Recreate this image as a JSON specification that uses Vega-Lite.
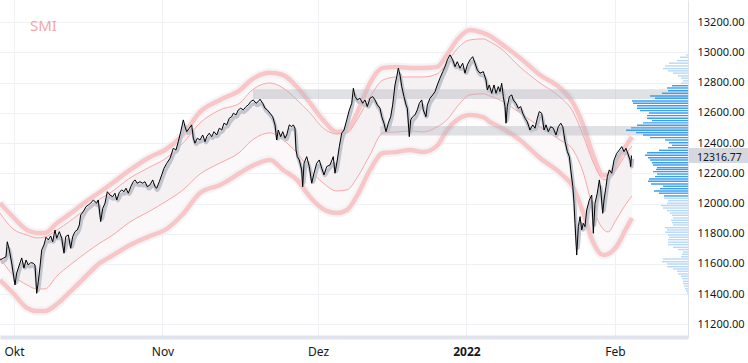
{
"$schema":"https://vega.github.io/schema/vega-lite/v6.json",
"width":688,"height":337,
"autosize":{"type":"none"},
"padding":{"left":0,"top":0,"right":60,"bottom":26},
"background":"#ffffff",
"config":{"view":{"stroke":null},"font":"Noto Sans"},
"title":{"text":"SMI","anchor":"start","frame":"group","orient":"top","offset":-34,"dx":30,"color":"#f6a5a7","fontSize":15,"fontWeight":"normal","font":"Noto Sans"},
"datasets":{
"price":[
{"d":-1.98,"p":11626},{"d":-1.51,"p":11638},{"d":-1.13,"p":11648},{"d":-0.95,"p":11747},{"d":-0.66,"p":11693},{"d":-0.33,"p":11607},{"d":0.14,"p":11461},{"d":0.38,"p":11540},{"d":0.75,"p":11593},{"d":1.09,"p":11640},{"d":1.41,"p":11573},{"d":1.70,"p":11626},{"d":2.02,"p":11593},{"d":2.36,"p":11609},{"d":2.73,"p":11605},{"d":2.97,"p":11593},{"d":3.21,"p":11406},{"d":3.44,"p":11483},{"d":3.68,"p":11582},{"d":3.92,"p":11693},{"d":4.24,"p":11726},{"d":4.53,"p":11777},{"d":4.85,"p":11759},{"d":5.19,"p":11785},{"d":5.47,"p":11747},{"d":5.80,"p":11825},{"d":6.04,"p":11770},{"d":6.41,"p":11814},{"d":6.75,"p":11770},{"d":7.07,"p":11671},{"d":7.31,"p":11781},{"d":7.68,"p":11792},{"d":8.02,"p":11704},{"d":8.30,"p":11781},{"d":8.63,"p":11814},{"d":8.95,"p":11825},{"d":9.24,"p":11858},{"d":9.43,"p":11924},{"d":9.80,"p":11946},{"d":10.18,"p":11979},{"d":10.51,"p":11990},{"d":10.85,"p":12002},{"d":11.22,"p":12023},{"d":11.70,"p":12002},{"d":11.92,"p":12023},{"d":12.26,"p":11880},{"d":12.55,"p":11968},{"d":12.87,"p":12002},{"d":13.20,"p":12078},{"d":13.58,"p":12056},{"d":13.96,"p":12045},{"d":14.28,"p":12068},{"d":14.53,"p":12023},{"d":14.89,"p":12072},{"d":15.23,"p":12090},{"d":15.56,"p":12078},{"d":15.84,"p":12101},{"d":16.17,"p":12068},{"d":16.51,"p":12111},{"d":16.87,"p":12144},{"d":17.11,"p":12156},{"d":17.44,"p":12134},{"d":17.82,"p":12144},{"d":18.20,"p":12134},{"d":18.53,"p":12144},{"d":18.85,"p":12111},{"d":19.24,"p":12123},{"d":19.62,"p":12156},{"d":19.94,"p":12111},{"d":20.18,"p":12101},{"d":20.55,"p":12144},{"d":20.89,"p":12189},{"d":21.22,"p":12233},{"d":21.60,"p":12266},{"d":22.07,"p":12299},{"d":22.53,"p":12365},{"d":22.91,"p":12354},{"d":23.24,"p":12409},{"d":23.58,"p":12475},{"d":23.95,"p":12553},{"d":24.19,"p":12508},{"d":24.43,"p":12475},{"d":24.79,"p":12498},{"d":25.13,"p":12520},{"d":25.36,"p":12432},{"d":25.60,"p":12399},{"d":25.93,"p":12432},{"d":26.31,"p":12420},{"d":26.69,"p":12453},{"d":27.02,"p":12409},{"d":27.26,"p":12442},{"d":27.62,"p":12465},{"d":27.96,"p":12442},{"d":28.29,"p":12475},{"d":28.67,"p":12453},{"d":29.04,"p":12498},{"d":29.38,"p":12486},{"d":29.70,"p":12531},{"d":30.08,"p":12520},{"d":30.45,"p":12564},{"d":30.79,"p":12574},{"d":31.02,"p":12597},{"d":31.40,"p":12586},{"d":31.73,"p":12619},{"d":32.07,"p":12630},{"d":32.43,"p":12619},{"d":32.82,"p":12641},{"d":33.14,"p":12652},{"d":33.48,"p":12674},{"d":33.85,"p":12685},{"d":34.23,"p":12663},{"d":34.55,"p":12674},{"d":34.79,"p":12690},{"d":35.18,"p":12663},{"d":35.50,"p":12630},{"d":35.83,"p":12619},{"d":36.21,"p":12597},{"d":36.59,"p":12574},{"d":36.92,"p":12520},{"d":37.16,"p":12420},{"d":37.38,"p":12486},{"d":37.72,"p":12442},{"d":38.01,"p":12475},{"d":38.33,"p":12432},{"d":38.57,"p":12453},{"d":38.94,"p":12520},{"d":39.28,"p":12508},{"d":39.51,"p":12520},{"d":39.74,"p":12498},{"d":39.89,"p":12354},{"d":40.07,"p":12310},{"d":40.35,"p":12288},{"d":40.69,"p":12222},{"d":40.83,"p":12111},{"d":41.02,"p":12266},{"d":41.40,"p":12310},{"d":41.77,"p":12244},{"d":42.11,"p":12134},{"d":42.43,"p":12200},{"d":42.81,"p":12266},{"d":43.18,"p":12288},{"d":43.52,"p":12233},{"d":43.85,"p":12189},{"d":44.23,"p":12244},{"d":44.70,"p":12255},{"d":45.16,"p":12310},{"d":45.40,"p":12200},{"d":45.73,"p":12288},{"d":46.01,"p":12376},{"d":46.35,"p":12465},{"d":46.68,"p":12486},{"d":47.06,"p":12553},{"d":47.43,"p":12619},{"d":47.77,"p":12663},{"d":48.00,"p":12762},{"d":48.24,"p":12707},{"d":48.56,"p":12685},{"d":48.94,"p":12696},{"d":49.32,"p":12663},{"d":49.65,"p":12685},{"d":49.97,"p":12641},{"d":50.35,"p":12696},{"d":50.74,"p":12707},{"d":51.06,"p":12685},{"d":51.39,"p":12652},{"d":51.77,"p":12630},{"d":52.01,"p":12574},{"d":52.33,"p":12531},{"d":52.62,"p":12475},{"d":52.94,"p":12531},{"d":53.28,"p":12574},{"d":53.56,"p":12652},{"d":53.89,"p":12784},{"d":54.13,"p":12839},{"d":54.36,"p":12895},{"d":54.60,"p":12850},{"d":54.84,"p":12773},{"d":55.16,"p":12707},{"d":55.45,"p":12652},{"d":55.63,"p":12630},{"d":55.91,"p":12442},{"d":56.11,"p":12553},{"d":56.39,"p":12574},{"d":56.72,"p":12586},{"d":57.04,"p":12619},{"d":57.33,"p":12663},{"d":57.67,"p":12685},{"d":57.89,"p":12619},{"d":58.27,"p":12574},{"d":58.46,"p":12652},{"d":58.84,"p":12696},{"d":59.22,"p":12718},{"d":59.55,"p":12740},{"d":59.87,"p":12784},{"d":60.25,"p":12829},{"d":60.64,"p":12872},{"d":60.96,"p":12905},{"d":61.29,"p":12950},{"d":61.67,"p":12983},{"d":62.05,"p":12950},{"d":62.38,"p":12905},{"d":62.70,"p":12938},{"d":63.08,"p":12895},{"d":63.46,"p":12928},{"d":63.79,"p":12862},{"d":64.12,"p":12917},{"d":64.50,"p":12950},{"d":64.88,"p":12971},{"d":65.21,"p":12928},{"d":65.53,"p":12883},{"d":65.91,"p":12862},{"d":66.38,"p":12872},{"d":66.76,"p":12817},{"d":66.95,"p":12751},{"d":67.23,"p":12784},{"d":67.57,"p":12729},{"d":67.89,"p":12784},{"d":68.18,"p":12729},{"d":68.50,"p":12773},{"d":68.74,"p":12740},{"d":68.98,"p":12795},{"d":69.21,"p":12707},{"d":69.45,"p":12641},{"d":69.59,"p":12531},{"d":69.77,"p":12641},{"d":70.06,"p":12707},{"d":70.40,"p":12718},{"d":70.62,"p":12685},{"d":71.00,"p":12663},{"d":71.33,"p":12630},{"d":71.67,"p":12641},{"d":71.95,"p":12597},{"d":72.28,"p":12564},{"d":72.60,"p":12541},{"d":72.98,"p":12486},{"d":73.37,"p":12520},{"d":73.69,"p":12498},{"d":74.02,"p":12564},{"d":74.30,"p":12608},{"d":74.64,"p":12597},{"d":74.97,"p":12486},{"d":75.25,"p":12520},{"d":75.57,"p":12475},{"d":75.91,"p":12508},{"d":76.28,"p":12498},{"d":76.66,"p":12453},{"d":76.99,"p":12508},{"d":77.33,"p":12531},{"d":77.62,"p":12508},{"d":77.94,"p":12409},{"d":78.27,"p":12343},{"d":78.55,"p":12310},{"d":78.75,"p":12222},{"d":79.04,"p":12111},{"d":79.21,"p":12002},{"d":79.35,"p":11869},{"d":79.59,"p":11659},{"d":79.82,"p":11847},{"d":80.06,"p":11913},{"d":80.30,"p":11825},{"d":80.52,"p":11869},{"d":80.76,"p":11847},{"d":81.00,"p":11957},{"d":81.37,"p":12023},{"d":81.71,"p":12056},{"d":81.94,"p":11803},{"d":82.18,"p":12002},{"d":82.50,"p":12068},{"d":82.79,"p":12156},{"d":82.99,"p":12090},{"d":83.27,"p":11935},{"d":83.45,"p":12023},{"d":83.73,"p":12111},{"d":83.92,"p":12178},{"d":84.20,"p":12222},{"d":84.54,"p":12200},{"d":84.87,"p":12288},{"d":85.25,"p":12332},{"d":85.62,"p":12354},{"d":85.96,"p":12376},{"d":86.28,"p":12343},{"d":86.56,"p":12365},{"d":86.89,"p":12321},{"d":87.13,"p":12288},{"d":87.23,"p":12244},{"d":87.34,"p":12317}
],
"bands":[
{"d":-1.98,"ou":12004,"iu":11937,"il":11640,"ol":11494},{"d":-0.14,"ou":11911,"iu":11832,"il":11527,"ol":11408},{"d":1.84,"ou":11825,"iu":11792,"il":11461,"ol":11309},{"d":3.25,"ou":11805,"iu":11772,"il":11435,"ol":11289},{"d":4.38,"ou":11805,"iu":11779,"il":11435,"ol":11289},{"d":6.08,"ou":11871,"iu":11825,"il":11521,"ol":11335},{"d":7.92,"ou":11931,"iu":11884,"il":11593,"ol":11415},{"d":10.33,"ou":12017,"iu":11970,"il":11679,"ol":11527},{"d":12.16,"ou":12076,"iu":12030,"il":11739,"ol":11607},{"d":13.58,"ou":12123,"iu":12070,"il":11779,"ol":11646},{"d":16.41,"ou":12222,"iu":12169,"il":11878,"ol":11726},{"d":19.24,"ou":12308,"iu":12242,"il":11951,"ol":11785},{"d":21.36,"ou":12354,"iu":12295,"il":12010,"ol":11825},{"d":23.90,"ou":12453,"iu":12400,"il":12090,"ol":11931},{"d":26.31,"ou":12606,"iu":12533,"il":12195,"ol":12070},{"d":29.14,"ou":12685,"iu":12619,"il":12268,"ol":12123},{"d":31.97,"ou":12751,"iu":12665,"il":12341,"ol":12202},{"d":33.38,"ou":12811,"iu":12738,"il":12407,"ol":12242},{"d":36.21,"ou":12864,"iu":12797,"il":12467,"ol":12288},{"d":38.05,"ou":12850,"iu":12764,"il":12420,"ol":12222},{"d":40.03,"ou":12771,"iu":12685,"il":12334,"ol":12156},{"d":41.87,"ou":12665,"iu":12599,"il":12222,"ol":12043},{"d":43.71,"ou":12553,"iu":12500,"il":12136,"ol":11964},{"d":45.69,"ou":12473,"iu":12460,"il":12083,"ol":11937},{"d":47.10,"ou":12486,"iu":12467,"il":12090,"ol":11957},{"d":48.51,"ou":12599,"iu":12553,"il":12169,"ol":12050},{"d":50.35,"ou":12797,"iu":12705,"il":12321,"ol":12222},{"d":52.19,"ou":12897,"iu":12817,"il":12467,"ol":12334},{"d":54.17,"ou":12903,"iu":12837,"il":12473,"ol":12341},{"d":56.01,"ou":12897,"iu":12837,"il":12480,"ol":12354},{"d":57.85,"ou":12897,"iu":12837,"il":12473,"ol":12341},{"d":59.83,"ou":12903,"iu":12857,"il":12506,"ol":12381},{"d":61.24,"ou":12983,"iu":12930,"il":12553,"ol":12486},{"d":62.66,"ou":13082,"iu":13022,"il":12639,"ol":12553},{"d":64.50,"ou":13148,"iu":13082,"il":12718,"ol":12586},{"d":66.34,"ou":13128,"iu":13089,"il":12725,"ol":12572},{"d":67.33,"ou":13108,"iu":13069,"il":12711,"ol":12539},{"d":68.74,"ou":13062,"iu":13029,"il":12685,"ol":12506},{"d":71.57,"ou":12963,"iu":12903,"il":12599,"ol":12420},{"d":74.40,"ou":12850,"iu":12797,"il":12506,"ol":12301},{"d":77.23,"ou":12764,"iu":12705,"il":12420,"ol":12202},{"d":79.07,"ou":12665,"iu":12606,"il":12354,"ol":12109},{"d":80.48,"ou":12520,"iu":12453,"il":12209,"ol":11944},{"d":81.90,"ou":12321,"iu":12275,"il":11970,"ol":11745},{"d":83.31,"ou":12189,"iu":12162,"il":11832,"ol":11659},{"d":84.02,"ou":12189,"iu":12156,"il":11812,"ol":11666},{"d":85.15,"ou":12255,"iu":12222,"il":11891,"ol":11712},{"d":86.56,"ou":12381,"iu":12328,"il":11997,"ol":11832},{"d":87.41,"ou":12440,"iu":12381,"il":12050,"ol":11904}
],
"zones":[{"start":33.8,"end":95.33,"lo":12692,"hi":12756},{"start":51.8,"end":95.33,"lo":12449,"hi":12513}],
"vp":[
{"p":12983,"vol":2},{"p":12967,"vol":8},{"p":12945,"vol":11},{"p":12928,"vol":19},{"p":12910,"vol":23},{"p":12892,"vol":25},{"p":12877,"vol":20},{"p":12862,"vol":15},{"p":12844,"vol":10},{"p":12829,"vol":7},{"p":12811,"vol":5},{"p":12795,"vol":7},{"p":12779,"vol":16},{"p":12764,"vol":21},{"p":12746,"vol":20},{"p":12729,"vol":26},{"p":12711,"vol":38},{"p":12696,"vol":33},{"p":12678,"vol":56},{"p":12663,"vol":55},{"p":12647,"vol":51},{"p":12630,"vol":51},{"p":12614,"vol":48},{"p":12599,"vol":39},{"p":12581,"vol":41},{"p":12564,"vol":41},{"p":12548,"vol":36},{"p":12533,"vol":45},{"p":12518,"vol":51},{"p":12500,"vol":57},{"p":12484,"vol":62},{"p":12469,"vol":52},{"p":12453,"vol":45},{"p":12436,"vol":38},{"p":12420,"vol":23},{"p":12402,"vol":19},{"p":12385,"vol":16},{"p":12369,"vol":20},{"p":12352,"vol":29},{"p":12336,"vol":41},{"p":12319,"vol":43},{"p":12303,"vol":40},{"p":12288,"vol":38},{"p":12270,"vol":36},{"p":12255,"vol":35},{"p":12237,"vol":31},{"p":12225,"vol":32},{"p":12211,"vol":35},{"p":12195,"vol":31},{"p":12178,"vol":33},{"p":12162,"vol":39},{"p":12147,"vol":40},{"p":12129,"vol":37},{"p":12114,"vol":25},{"p":12098,"vol":28},{"p":12083,"vol":34},{"p":12068,"vol":29},{"p":12050,"vol":24},{"p":12035,"vol":24},{"p":12019,"vol":20},{"p":12002,"vol":21},{"p":11986,"vol":27},{"p":11970,"vol":25},{"p":11953,"vol":21},{"p":11937,"vol":18},{"p":11922,"vol":16},{"p":11904,"vol":15},{"p":11889,"vol":17},{"p":11873,"vol":16},{"p":11858,"vol":15},{"p":11840,"vol":23},{"p":11825,"vol":21},{"p":11810,"vol":23},{"p":11792,"vol":20},{"p":11777,"vol":19},{"p":11761,"vol":20},{"p":11744,"vol":20},{"p":11728,"vol":20},{"p":11710,"vol":15},{"p":11695,"vol":10},{"p":11679,"vol":5},{"p":11664,"vol":6},{"p":11648,"vol":7},{"p":11633,"vol":25},{"p":11615,"vol":26},{"p":11600,"vol":21},{"p":11582,"vol":21},{"p":11567,"vol":15},{"p":11552,"vol":11},{"p":11534,"vol":10},{"p":11519,"vol":7},{"p":11503,"vol":6},{"p":11485,"vol":5},{"p":11470,"vol":5},{"p":11454,"vol":4},{"p":11436,"vol":3},{"p":11421,"vol":2},{"p":11406,"vol":1}
],
"last":[{"p":12316.77}]
},
"resolve":{"scale":{"x":"independent"},"axis":{"x":"independent","y":"independent"}},
"layer":[
{"data":{"name":"bands"},"mark":{"type":"area","interpolate":"monotone","color":"#fbf8f9"},
 "encoding":{"x":{"field":"d","type":"quantitative","scale":{"domain":[-1.98,95.33],"nice":false,"zero":false},
   "axis":{"values":[0,21,43,64,85],"labelExpr":"datum.value == 0 ? 'Okt' : datum.value == 21 ? 'Nov' : datum.value == 43 ? 'Dez' : datum.value == 64 ? '2022' : 'Feb'","title":null,"ticks":false,"grid":true,"gridColor":"#eef0f3","domainColor":"#e0e3eb","domainWidth":4,"labelFontSize":12,"labelColor":"#131722","labelPadding":9,"labelFlush":false,"labelOverlap":false,"labelFont":"Noto Sans","labelFontWeight":{"condition":{"test":"datum.value == 64","value":"bold"},"value":"normal"}}},
  "y":{"field":"ol","type":"quantitative","scale":{"domain":[11117,13346],"nice":false,"zero":false},
   "axis":{"orient":"right","values":[11200,11400,11600,11800,12000,12200,12400,12600,12800,13000,13200],"format":".2f","title":null,"ticks":false,"grid":true,"gridColor":"#eef0f3","domainColor":"#e0e3eb","labelFontSize":11,"labelColor":"#131722","labelPadding":9,"labelFont":"Noto Sans"}},
  "y2":{"field":"ou"}}},
{"data":{"name":"bands"},"mark":{"type":"area","interpolate":"monotone","color":"#f5f0f2"},
 "encoding":{"x":{"field":"d","type":"quantitative","scale":{"domain":[-1.98,95.33],"nice":false,"zero":false},"axis":null},"y":{"field":"il","type":"quantitative","axis":null},"y2":{"field":"iu"}}},
{"data":{"name":"bands"},"mark":{"type":"line","interpolate":"monotone","color":"#efeff2","strokeWidth":9,"opacity":0.7},
 "encoding":{"x":{"field":"d","type":"quantitative","scale":{"domain":[-1.98,95.33],"nice":false,"zero":false},"axis":null},"y":{"field":"ou","type":"quantitative","axis":null}}},
{"data":{"name":"bands"},"mark":{"type":"line","interpolate":"monotone","color":"#efeff2","strokeWidth":9,"opacity":0.7},
 "encoding":{"x":{"field":"d","type":"quantitative","scale":{"domain":[-1.98,95.33],"nice":false,"zero":false},"axis":null},"y":{"field":"ol","type":"quantitative","axis":null}}},
{"data":{"name":"bands"},"mark":{"type":"line","interpolate":"monotone","color":"#f9c6c8","strokeWidth":4.5},
 "encoding":{"x":{"field":"d","type":"quantitative","scale":{"domain":[-1.98,95.33],"nice":false,"zero":false},"axis":null},"y":{"field":"ou","type":"quantitative","axis":null}}},
{"data":{"name":"bands"},"mark":{"type":"line","interpolate":"monotone","color":"#f9c6c8","strokeWidth":4.5},
 "encoding":{"x":{"field":"d","type":"quantitative","scale":{"domain":[-1.98,95.33],"nice":false,"zero":false},"axis":null},"y":{"field":"ol","type":"quantitative","axis":null}}},
{"data":{"name":"bands"},"mark":{"type":"line","interpolate":"monotone","color":"#f6a8aa","strokeWidth":1},
 "encoding":{"x":{"field":"d","type":"quantitative","scale":{"domain":[-1.98,95.33],"nice":false,"zero":false},"axis":null},"y":{"field":"iu","type":"quantitative","axis":null}}},
{"data":{"name":"bands"},"mark":{"type":"line","interpolate":"monotone","color":"#f6a8aa","strokeWidth":1},
 "encoding":{"x":{"field":"d","type":"quantitative","scale":{"domain":[-1.98,95.33],"nice":false,"zero":false},"axis":null},"y":{"field":"il","type":"quantitative","axis":null}}},
{"data":{"name":"zones"},"mark":{"type":"rect","color":"#b2b5be","opacity":0.4},
 "encoding":{"x":{"field":"start","type":"quantitative","scale":{"domain":[-1.98,95.33],"nice":false,"zero":false},"axis":null},"x2":{"field":"end"},"y":{"field":"lo","type":"quantitative","axis":null},"y2":{"field":"hi"}}},
{"data":{"name":"price"},"mark":{"type":"line","interpolate":"basis","color":"#c2c5cd","strokeWidth":3.5,"yOffset":3,"xOffset":1},
 "encoding":{"x":{"field":"d","type":"quantitative","scale":{"domain":[-1.98,95.33],"nice":false,"zero":false},"axis":null},"y":{"field":"p","type":"quantitative","axis":null}}},
{"data":{"name":"price"},"mark":{"type":"line","color":"#000000","strokeWidth":1},
 "encoding":{"x":{"field":"d","type":"quantitative","scale":{"domain":[-1.98,95.33],"nice":false,"zero":false},"axis":null},"y":{"field":"p","type":"quantitative","axis":null}}},
{"data":{"name":"vp"},"mark":{"type":"rule","strokeWidth":1.4},
 "encoding":{"x":{"field":"vol","type":"quantitative","scale":{"domain":[0,688],"reverse":true,"nice":false,"zero":false},"axis":null},"x2":{"datum":0},
  "y":{"field":"p","type":"quantitative","axis":null},
  "color":{"condition":{"test":"datum.p >= 12040 && datum.p <= 12785","value":"#3d9ef0"},"value":"#b6d9f7"}}},
{"data":{"name":"last"},"mark":{"type":"rule","strokeWidth":15,"color":"#d6d8de"},
 "encoding":{"x":{"datum":-1,"type":"quantitative","scale":{"domain":[0,688],"reverse":true,"nice":false,"zero":false},"axis":null},"x2":{"datum":-62},"y":{"field":"p","type":"quantitative","axis":null}}},
{"data":{"name":"last"},"mark":{"type":"text","align":"left","baseline":"middle","fontSize":10.5,"dy":2,"font":"Noto Sans","color":"#131722"},
 "encoding":{"x":{"datum":-9,"type":"quantitative","scale":{"domain":[0,688],"reverse":true,"nice":false,"zero":false},"axis":null},"y":{"field":"p","type":"quantitative","axis":null},"text":{"field":"p","type":"quantitative","format":".2f"}}}
]
}
